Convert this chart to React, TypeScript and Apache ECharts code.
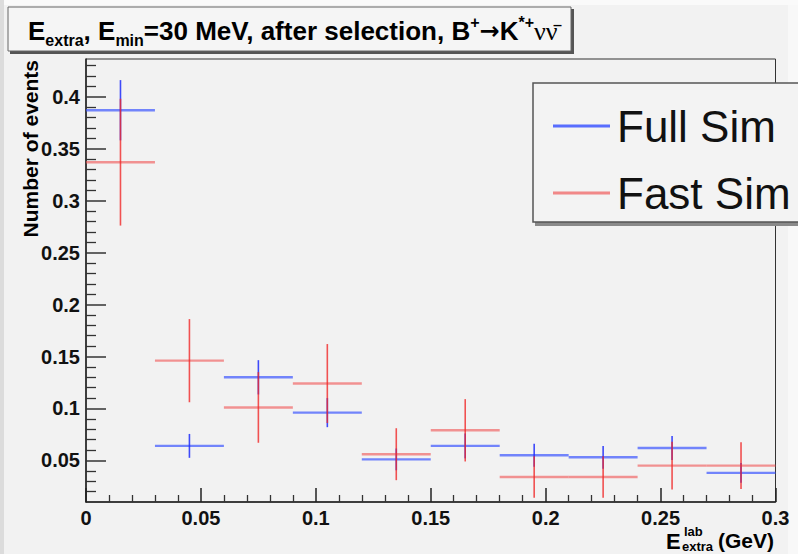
import React, { useEffect, useRef } from "react";
import * as echarts from "echarts";

// ---- data ----
const binEdges = [0, 0.03, 0.06, 0.09, 0.12, 0.15, 0.18, 0.21, 0.24, 0.27, 0.3];
const fullSimValues = [0.387, 0.064, 0.13, 0.096, 0.051, 0.064, 0.055, 0.053, 0.062, 0.038];
const fullSimErrors = [0.029, 0.0115, 0.0165, 0.014, 0.0105, 0.012, 0.011, 0.011, 0.0115, 0.0095];
const fastSimValues = [0.337, 0.146, 0.101, 0.124, 0.056, 0.079, 0.034, 0.034, 0.045, 0.045];
const fastSimErrors = [0.061, 0.04, 0.034, 0.038, 0.025, 0.03, 0.02, 0.02, 0.023, 0.0225];
const yMajorTicks = [0.05, 0.1, 0.15, 0.2, 0.25, 0.3, 0.35, 0.4];
const yMinorTicks = [
  0.02, 0.03, 0.04, 0.06, 0.07, 0.08, 0.09, 0.11, 0.12, 0.13, 0.14, 0.16, 0.17, 0.18, 0.19,
  0.21, 0.22, 0.23, 0.24, 0.26, 0.27, 0.28, 0.29, 0.31, 0.32, 0.33, 0.34, 0.36, 0.37, 0.38,
  0.39, 0.41, 0.42, 0.43,
];
const seriesNames = ["Full Sim", "Fast Sim"];

const FONT = "'Liberation Sans', Arial, Helvetica, sans-serif";
const BLUE_H = "rgba(60,85,255,0.7)";
const BLUE_V = "rgba(30,45,250,0.85)";
const RED_H = "rgba(240,80,80,0.6)";
const RED_V = "rgba(240,40,40,0.8)";

function toItems(vals: number[], errs: number[]) {
  return vals.map((v, i) => [binEdges[i], binEdges[i + 1], v, errs[i]]);
}

function makeRender(hCol: string, vCol: string) {
  return (params: any, api: any) => {
    const x0 = api.value(0);
    const x1 = api.value(1);
    const y = api.value(2);
    const e = api.value(3);
    const p0 = api.coord([x0, y]);
    const p1 = api.coord([x1, y]);
    const xc = (x0 + x1) / 2;
    const pt = api.coord([xc, y + e]);
    const pb = api.coord([xc, y - e]);
    return {
      type: "group",
      children: [
        {
          type: "line",
          shape: { x1: p0[0], y1: p0[1], x2: p1[0], y2: p1[1] },
          style: { stroke: hCol, lineWidth: 2.4 },
        },
        {
          type: "line",
          shape: { x1: pt[0], y1: pt[1], x2: pb[0], y2: pb[1] },
          style: { stroke: vCol, lineWidth: 1.6 },
        },
      ],
    };
  };
}

export default function App() {
  const ref = useRef<HTMLDivElement>(null);
  useEffect(() => {
    if (!ref.current) return;
    const chart = echarts.init(ref.current, undefined, { renderer: "svg" });
    const axisCommon = {
      axisLine: { show: true, lineStyle: { color: "#222", width: 1.5 } },
      splitLine: { show: false },
    };
    const option: any = {
      animation: false,
      backgroundColor: "#f2f2f2",
      grid: {
        left: 86,
        top: 59,
        right: 22.5,
        bottom: 52,
        show: true,
        borderColor: "#333",
        borderWidth: 1,
        backgroundColor: "transparent",
        containLabel: false,
      },
      xAxis: {
        type: "value",
        min: 0,
        max: 0.3,
        interval: 0.05,
        ...axisCommon,
        axisTick: { show: true, inside: true, length: 14, lineStyle: { color: "#222", width: 1.5 } },
        minorTick: { show: true, splitNumber: 5, length: 7, lineStyle: { color: "#333", width: 1.3 } },
        axisLabel: {
          color: "#111",
          fontSize: 20,
          fontWeight: "bold",
          fontFamily: FONT,
          margin: 6,
        },
      },
      yAxis: [
        {
          type: "value",
          min: 0.01,
          max: 0.4363,
          ...axisCommon,
          axisTick: {
            show: true,
            inside: true,
            length: 20,
            customValues: yMajorTicks,
            lineStyle: { color: "#333", width: 1.5 },
          },
          axisLabel: {
            color: "#111",
            fontSize: 20,
            fontWeight: "bold",
            fontFamily: FONT,
            margin: 6,
            customValues: yMajorTicks,
          },
        },
        {
          type: "value",
          min: 0.01,
          max: 0.4363,
          position: "left",
          axisLine: { show: false },
          splitLine: { show: false },
          axisTick: {
            show: true,
            inside: true,
            length: 10,
            customValues: yMinorTicks,
            lineStyle: { color: "#333", width: 1.3 },
          },
          axisLabel: { show: false },
        },
      ],
      legend: {
        orient: "vertical",
        left: 548,
        top: 99,
        itemWidth: 57,
        itemHeight: 3,
        itemGap: 23,
        selectedMode: false,
        z: 20,
        data: [
          { name: seriesNames[0], icon: "rect", itemStyle: { color: "rgba(60,85,255,0.85)" } },
          { name: seriesNames[1], icon: "rect", itemStyle: { color: "rgba(240,90,90,0.7)" } },
        ],
        textStyle: {
          color: "#111",
          fontSize: 44,
          fontFamily: FONT,
          padding: [0, 0, 0, 2],
        },
      },
      graphic: [
        // page strips
        { type: "rect", silent: true, z: -10, shape: { x: 0, y: 0, width: 798, height: 5 }, style: { fill: "#fafafa" } },
        { type: "rect", silent: true, z: -10, shape: { x: 0, y: 0, width: 4, height: 554 }, style: { fill: "#dcdcdc" } },
        { type: "rect", silent: true, z: -10, shape: { x: 788, y: 5, width: 10, height: 549 }, style: { fill: "#f8f8f8" } },
        // title box
        { type: "rect", silent: true, z: 5, shape: { x: 10, y: 9, width: 564, height: 45 }, style: { fill: "#555" } },
        {
          type: "rect",
          silent: true,
          z: 6,
          shape: { x: 8, y: 7, width: 563, height: 44 },
          style: { fill: "#f5f5f5", stroke: "#666", lineWidth: 1 },
        },
        {
          type: "text",
          silent: true,
          z: 7,
          x: 28,
          y: 31,
          style: {
            text:
              "{m|E}{sub|extra}{m|, E}{sub|min}{m|=30 MeV, after selection, B}{sup|+}{ar|→}{m|K}{sup|*+}{nu|νν̄}",
            align: "left",
            verticalAlign: "middle",
            textAlign: "left",
            textVerticalAlign: "middle",
            fill: "#000",
            rich: {
              m: { fontSize: 26, fontWeight: "bold", fontFamily: FONT, lineHeight: 34, fill: "#000", color: "#000" },
              ar: {
                fontSize: 24,
                fontWeight: "bold",
                fontFamily: "'DejaVu Sans', sans-serif",
                lineHeight: 34,
                fill: "#000",
                color: "#000",
              },
              sub: {
                fontSize: 16,
                fontWeight: "bold",
                fontFamily: FONT,
                lineHeight: 16,
                verticalAlign: "bottom",
                fill: "#000",
                color: "#000",
              },
              sup: {
                fontSize: 16,
                fontWeight: "bold",
                fontFamily: FONT,
                lineHeight: 16,
                verticalAlign: "top",
                fill: "#000",
                color: "#000",
              },
              nu: {
                fontSize: 26,
                fontFamily: "'Liberation Serif', 'DejaVu Serif', serif",
                lineHeight: 34,
                fill: "#000",
                color: "#000",
              },
            },
          },
        },
        // legend box
        { type: "rect", silent: true, z: 10, shape: { x: 535, y: 86, width: 280, height: 140 }, style: { fill: "#8a8a8a" } },
        {
          type: "rect",
          silent: true,
          z: 11,
          shape: { x: 533, y: 83, width: 280, height: 139 },
          style: { fill: "#f3f3f3", stroke: "#555", lineWidth: 1.5 },
        },
        // y axis title
        {
          type: "text",
          silent: true,
          z: 12,
          x: 30,
          y: 60,
          rotation: Math.PI / 2,
          style: {
            text: "Number of events",
            align: "right",
            verticalAlign: "middle",
            textAlign: "right",
            textVerticalAlign: "middle",
            fontSize: 21,
            fontWeight: "bold",
            fontFamily: FONT,
            fill: "#000",
          },
        },
        // x axis title
        {
          type: "text",
          silent: true,
          z: 12,
          x: 666,
          y: 552,
          style: {
            text: "E",
            verticalAlign: "bottom",
            textVerticalAlign: "bottom",
            fontSize: 22,
            fontWeight: "bold",
            fontFamily: FONT,
            fill: "#000",
          },
        },
        {
          type: "text",
          silent: true,
          z: 12,
          x: 684,
          y: 538,
          style: {
            text: "lab",
            verticalAlign: "bottom",
            textVerticalAlign: "bottom",
            fontSize: 13,
            fontWeight: "bold",
            fontFamily: FONT,
            fill: "#000",
          },
        },
        {
          type: "text",
          silent: true,
          z: 12,
          x: 682,
          y: 553,
          style: {
            text: "extra",
            verticalAlign: "bottom",
            textVerticalAlign: "bottom",
            fontSize: 13,
            fontWeight: "bold",
            fontFamily: FONT,
            fill: "#000",
          },
        },
        {
          type: "text",
          silent: true,
          z: 12,
          x: 774,
          y: 551,
          style: {
            text: "(GeV)",
            align: "right",
            textAlign: "right",
            verticalAlign: "bottom",
            textVerticalAlign: "bottom",
            fontSize: 21,
            fontWeight: "bold",
            fontFamily: FONT,
            fill: "#000",
          },
        },
      ],
      series: [
        {
          type: "custom",
          name: seriesNames[0],
          xAxisIndex: 0,
          yAxisIndex: 0,
          itemStyle: { color: BLUE_V },
          encode: { x: [0, 1], y: 2 },
          data: toItems(fullSimValues, fullSimErrors),
          renderItem: makeRender(BLUE_H, BLUE_V),
          z: 3,
        },
        {
          type: "custom",
          name: seriesNames[1],
          xAxisIndex: 0,
          yAxisIndex: 0,
          itemStyle: { color: RED_V },
          encode: { x: [0, 1], y: 2 },
          data: toItems(fastSimValues, fastSimErrors),
          renderItem: makeRender(RED_H, RED_V),
          z: 4,
        },
      ],
    };
    chart.setOption(option);
    return () => chart.dispose();
  }, []);
  return (
    <div
      ref={ref}
      style={{ position: "fixed", left: 0, top: 0, width: 798, height: 554 }}
    />
  );
}
